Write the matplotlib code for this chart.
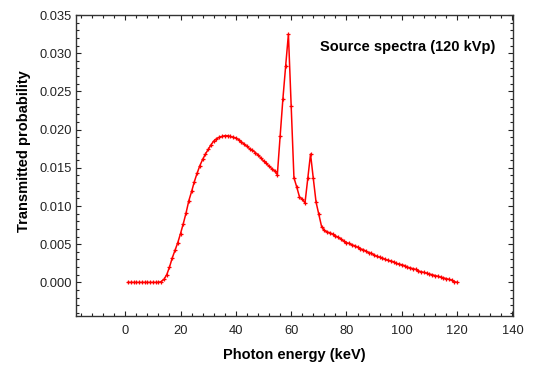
import numpy as np
import matplotlib
matplotlib.use("Agg")
import matplotlib.pyplot as plt
from matplotlib.ticker import MultipleLocator, FormatStrFormatter

plt.rcParams["font.family"] = ["Liberation Sans", "DejaVu Sans"]

# energia de los fotones (keV), paso de 1 keV
energia = np.arange(1, 121)

# probabilidad transmitida
probabilidad = [
    0.0, 0.0, 0.0, 0.0, 0.0, 0.0, 0.0, 0.0, 0.0, 0.0,
    0.0, 0.0, 0.0001, 0.0004, 0.0010, 0.0020, 0.0032, 0.0042, 0.0052, 0.0064,
    0.0077, 0.0091, 0.0107, 0.0119, 0.0132, 0.0143, 0.0153, 0.0161, 0.0168, 0.0174,
    0.0180, 0.0185, 0.0188, 0.0190, 0.0191, 0.0192, 0.0192, 0.0191, 0.0190, 0.0189,
    0.0187, 0.0184, 0.0181, 0.0178, 0.0175, 0.0173, 0.0170, 0.0167, 0.0163, 0.0159,
    0.0156, 0.0152, 0.0149, 0.0146, 0.0141, 0.0191, 0.0240, 0.0283, 0.0325, 0.0231,
    0.0137, 0.0125, 0.0112, 0.0109, 0.0104, 0.0136, 0.0168, 0.0136, 0.0105, 0.0089,
    0.0073, 0.0068, 0.0066, 0.0065, 0.0063, 0.0061, 0.0059, 0.0057, 0.0054, 0.0052,
    0.0051, 0.0049, 0.0048, 0.0046, 0.0044, 0.0043, 0.0041, 0.0039, 0.0038, 0.0036,
    0.0034, 0.0033, 0.0032, 0.0030, 0.0029, 0.0028, 0.0027, 0.0025, 0.0024, 0.0023,
    0.0022, 0.0020, 0.0019, 0.0018, 0.0017, 0.0015, 0.0014, 0.0013, 0.0012, 0.0011,
    0.0010, 0.0009, 0.0008, 0.0007, 0.0006, 0.0005, 0.0004, 0.0003, 0.0001, 0.0000,
]

titulo = "Source spectra (120 kVp)"

fig = plt.figure(figsize=(5.44, 3.65), dpi=100)
ax = fig.add_axes([0.1397, 0.1342, 0.943 - 0.1397, 0.9589 - 0.1342])

ax.plot(energia, probabilidad, color="red", lw=1.1, marker="+",
        markersize=3.5, markeredgewidth=0.9)

ax.set_xlim(-17.8, 140.2)
ax.set_ylim(-0.0044, 0.035)
ax.xaxis.set_major_locator(MultipleLocator(20))
ax.xaxis.set_minor_locator(MultipleLocator(4))
ax.yaxis.set_major_locator(MultipleLocator(0.005))
ax.yaxis.set_minor_locator(MultipleLocator(0.001))
ax.yaxis.set_major_formatter(FormatStrFormatter("%.3f"))
ax.set_xticks([0, 20, 40, 60, 80, 100, 120, 140])
ax.set_yticks([0.0, 0.005, 0.010, 0.015, 0.020, 0.025, 0.030, 0.035])

ax.tick_params(which="both", direction="in", top=True, right=True,
               labelsize=9.3, colors="#222222", width=0.8)
ax.tick_params(which="major", length=3.5)
ax.tick_params(which="minor", length=2)
ax.tick_params(axis="x", which="major", pad=6.5)
ax.tick_params(axis="y", which="major", pad=3)
for s in ax.spines.values():
    s.set_linewidth(1.0)
    s.set_color("#333333")

ax.set_xlabel("Photon energy (keV)", fontsize=10.5, fontweight="bold", labelpad=8)
ax.set_ylabel("Transmitted probability", fontsize=10.5, fontweight="bold")
ax.yaxis.set_label_coords(-0.103, 0.548)
ax.text(0.96, 0.895, titulo, transform=ax.transAxes, ha="right", va="center",
        fontsize=10.5, fontweight="bold")

fig.savefig("out.png", dpi=100)
